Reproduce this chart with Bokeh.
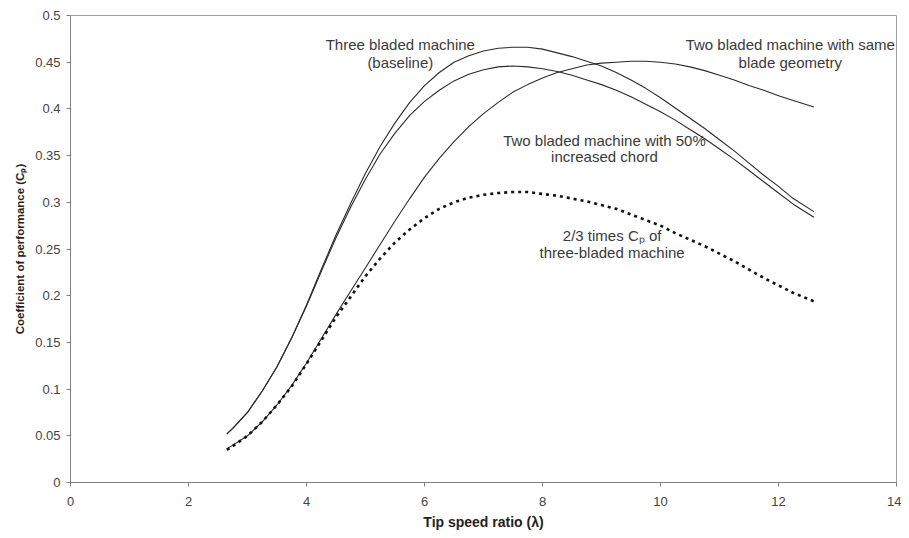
from bokeh.plotting import figure
from bokeh.models import Range1d, Label, FixedTicker
from bokeh.embed import file_html
from bokeh.resources import INLINE

# Tip speed ratio samples
tsr = [2.65, 2.75, 3.0, 3.25, 3.5, 3.75, 4.0, 4.25, 4.5, 4.75, 5.0, 5.25, 5.5, 5.75,
       6.0, 6.25, 6.5, 6.75, 7.0, 7.25, 7.5, 7.75, 8.0, 8.25, 8.5, 8.75, 9.0, 9.25,
       9.5, 9.75, 10.0, 10.25, 10.5, 10.75, 11.0, 11.25, 11.5, 11.75, 12.0, 12.25, 12.6]

three_bladed = [0.052, 0.058, 0.075, 0.098, 0.124, 0.155, 0.19, 0.228, 0.265, 0.299,
                0.331, 0.36, 0.385, 0.407, 0.425, 0.439, 0.45, 0.457, 0.462, 0.465,
                0.466, 0.466, 0.464, 0.46, 0.456, 0.451, 0.446, 0.439, 0.431, 0.422,
                0.412, 0.401, 0.39, 0.379, 0.367, 0.355, 0.342, 0.329, 0.317, 0.304, 0.290]
two_bladed_chord = [0.052, 0.058, 0.075, 0.098, 0.124, 0.155, 0.189, 0.226, 0.262, 0.295,
                    0.325, 0.352, 0.374, 0.393, 0.408, 0.42, 0.43, 0.437, 0.442, 0.445,
                    0.446, 0.445, 0.443, 0.44, 0.436, 0.431, 0.426, 0.42, 0.413, 0.405,
                    0.397, 0.388, 0.378, 0.368, 0.357, 0.346, 0.334, 0.322, 0.31, 0.298, 0.284]
two_bladed_same = [0.036, 0.04, 0.05, 0.065, 0.083, 0.104, 0.128, 0.154, 0.18, 0.205,
                   0.23, 0.255, 0.28, 0.304, 0.327, 0.347, 0.365, 0.381, 0.395, 0.407,
                   0.418, 0.426, 0.433, 0.439, 0.443, 0.447, 0.449, 0.45, 0.451, 0.451,
                   0.45, 0.448, 0.445, 0.441, 0.436, 0.431, 0.425, 0.42, 0.414, 0.409, 0.402]
two_thirds = [0.035, 0.039, 0.05, 0.065, 0.083, 0.103, 0.127, 0.152, 0.177, 0.199,
              0.221, 0.24, 0.257, 0.271, 0.283, 0.293, 0.3, 0.305, 0.308, 0.31,
              0.311, 0.311, 0.309, 0.307, 0.304, 0.301, 0.297, 0.293, 0.287, 0.281,
              0.275, 0.267, 0.26, 0.253, 0.245, 0.237, 0.228, 0.219, 0.211, 0.203, 0.194]

x_ticks = [0, 2, 4, 6, 8, 10, 12, 14]
y_ticks = [0, 0.05, 0.1, 0.15, 0.2, 0.25, 0.3, 0.35, 0.4, 0.45, 0.5]
y_tick_labels = {0: "0", 0.05: "0.05", 0.1: "0.1", 0.15: "0.15", 0.2: "0.2", 0.25: "0.25",
                 0.3: "0.3", 0.35: "0.35", 0.4: "0.4", 0.45: "0.45", 0.5: "0.5"}

FONT = "Liberation Sans"
TXT = "#3a3a3a"
LINE = "#2b2b2b"

p = figure(width=901, height=532, output_backend="svg", toolbar_location=None,
           x_range=Range1d(0, 14), y_range=Range1d(0, 0.5),
           min_border_left=70, min_border_right=5, min_border_top=15, min_border_bottom=48)

p.background_fill_color = "white"
p.border_fill_color = "white"
p.outline_line_color = "#a0a0a0"
p.outline_line_width = 1
p.xgrid.visible = False
p.ygrid.visible = False

for ax in (p.xaxis, p.yaxis):
    ax.axis_line_color = "#808080"
    ax.major_tick_line_color = "#808080"
    ax.minor_tick_line_color = None
    ax.major_tick_in = 0
    ax.major_tick_out = 4
    ax.major_label_text_font = FONT
    ax.major_label_text_font_size = "13px"
    ax.major_label_text_color = "#444444"
    ax.axis_label_text_font = FONT
    ax.axis_label_text_font_style = "bold"
    ax.axis_label_text_color = "#222222"

p.xaxis.axis_label_text_font_size = "14px"
p.yaxis.axis_label_text_font_size = "11.5px"
p.xaxis.ticker = FixedTicker(ticks=x_ticks)
p.yaxis.ticker = FixedTicker(ticks=y_ticks)
p.yaxis.major_label_overrides = y_tick_labels
p.xaxis.axis_label = "Tip speed ratio (λ)"
p.yaxis.axis_label = "Coefficient of performance (Cₚ)"
p.xaxis.major_label_standoff = 10
p.xaxis.axis_label_standoff = 5
p.yaxis.major_label_standoff = 6
p.yaxis.axis_label_standoff = 6

p.line(tsr, three_bladed, line_color=LINE, line_width=1.1)
p.line(tsr, two_bladed_chord, line_color=LINE, line_width=1.1)
p.line(tsr, two_bladed_same, line_color=LINE, line_width=1.1)
p.line(tsr, two_thirds, line_color="#111111", line_width=2.6, line_dash="3 4")

notes = [
    ("Three bladed machine", 5.59, 0.469),
    ("(baseline)", 5.59, 0.450),
    ("Two bladed machine with same", 12.2, 0.469),
    ("blade geometry", 12.2, 0.450),
    ("Two bladed machine with 50%", 9.05, 0.366),
    ("increased chord", 9.05, 0.349),
    ("2/3 times Cₚ of", 9.18, 0.264),
    ("three-bladed machine", 9.18, 0.246),
]
for t, x, y in notes:
    p.add_layout(Label(x=x, y=y, text=t, text_align="center", text_baseline="middle",
                       text_font=FONT, text_font_size="15px", text_color=TXT))

open("out.html", "w").write(file_html(p, INLINE))
